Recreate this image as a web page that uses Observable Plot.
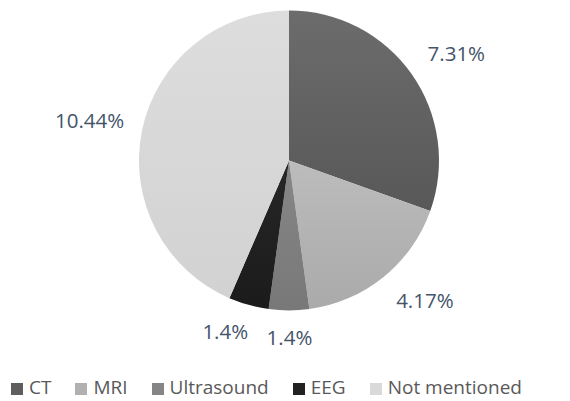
<!DOCTYPE html>
<html>
<head>
<meta charset="utf-8">
<script src="https://cdn.jsdelivr.net/npm/d3@7"></script>
<script src="https://cdn.jsdelivr.net/npm/@observablehq/plot@0.6"></script>
<style>
  html, body { margin: 0; padding: 0; background: #fff; }
  #chart { width: 570px; }
  .legend { display: flex; justify-content: flex-start; align-items: center; gap: 24px;
    font-family: "Open Sans", sans-serif; font-size: 19px; color: #595959;
    padding-left: 11px; height: 30px; line-height: 30px; }
  .legend .item { display: flex; align-items: center; gap: 6px; }
  .legend .sw { width: 12px; height: 12px; display: inline-block; margin-top: 3px; }
</style>
</head>
<body>
<div id="chart"></div>
<script>
const categories = ["CT", "MRI", "Ultrasound", "EEG", "Not mentioned"];
// slice sizes as drawn in the picture
const values = [7.31, 4.17, 1.04, 1.04, 10.44];
// label texts as printed in the picture
const labels = ["7.31%", "4.17%", "1.4%", "1.4%", "10.44%"];
const colorsTop = ["#6c6c6c", "#bcbcbc", "#878787", "#272727", "#dddddd"];
const colorsBottom = ["#585858", "#aaaaaa", "#787878", "#1b1b1b", "#d2d2d2"];
const swatchColors = ["#5e5e5e", "#b1b1b1", "#858585", "#222222", "#d9d9d9"];

const data = categories.map((c, i) => ({category: c, value: values[i], label: labels[i]}));
const arcs = d3.pie().sort(null).value(d => d.value)(data);
const labelData = arcs.map(a => ({label: a.data.label, mid: (a.startAngle + a.endAngle) / 2}));

function pieMark(index, scales) {
  const cx = scales.x(0), cy = scales.y(0);
  const r = scales.x(1) - scales.x(0);
  const g = d3.create("svg:g");
  const defs = g.append("defs");
  arcs.forEach((a, i) => {
    const lg = defs.append("linearGradient").attr("id", "grad" + i)
      .attr("x1", 0).attr("y1", 0).attr("x2", 0).attr("y2", 1);
    lg.append("stop").attr("offset", "0%").attr("stop-color", colorsTop[i]);
    lg.append("stop").attr("offset", "100%").attr("stop-color", colorsBottom[i]);
  });
  const arc = d3.arc().innerRadius(0).outerRadius(r);
  g.append("g").attr("transform", `translate(${cx},${cy})`)
    .selectAll("path").data(arcs).join("path")
    .attr("d", arc)
    .attr("fill", (d, i) => `url(#grad${i})`);
  return g.node();
}

// outside-end label placement: the label box corner nearest the pie sits just outside the rim
const R = 150, PAD = 18, HALF_H = 10, HALF_CHAR = 5.9, KB = 3;
const k = 1 + PAD / R;
const clamp = v => Math.max(-1, Math.min(1, v));
const plot = Plot.plot({
  width: 570,
  height: 372,
  margin: 0,
  x: {domain: [-1, 1], range: [139, 439], axis: null},
  y: {domain: [1, -1], range: [11, 310], axis: null},
  marks: [
    pieMark,
    Plot.text(labelData, {
      x: d => k * Math.sin(d.mid) + clamp(KB * Math.sin(d.mid)) * d.label.length * HALF_CHAR / R,
      y: d => k * Math.cos(d.mid) + clamp(KB * Math.cos(d.mid)) * HALF_H / R,
      text: "label",
      fill: "#44546a",
      fontSize: 20.5,
      fontFamily: "Open Sans, sans-serif",
      textAnchor: "middle"
    })
  ]
});
document.getElementById("chart").appendChild(plot);

const legend = document.createElement("div");
legend.className = "legend";
categories.forEach((c, i) => {
  const item = document.createElement("span");
  item.className = "item";
  const sw = document.createElement("span");
  sw.className = "sw";
  sw.style.background = swatchColors[i];
  const t = document.createElement("span");
  t.textContent = c;
  item.appendChild(sw); item.appendChild(t);
  legend.appendChild(item);
});
document.getElementById("chart").appendChild(legend);
</script>
</body>
</html>
